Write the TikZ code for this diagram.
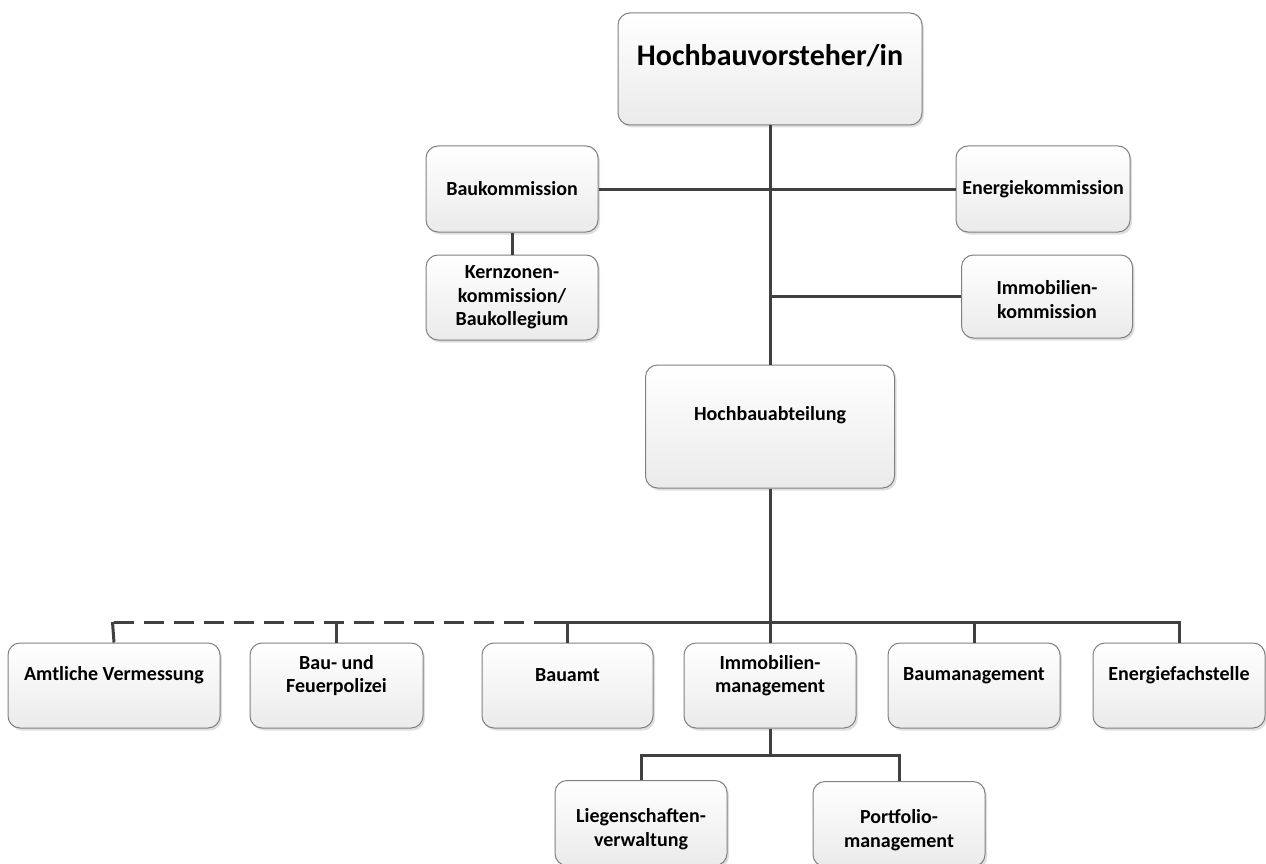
\documentclass[tikz,border=0pt]{standalone}
\usepackage{fontspec}
\setmainfont{Carlito}
\usetikzlibrary{shadows}

\tikzset{
  orgbox/.style={draw=black!50, line width=1pt, rounded corners=12pt, inner sep=0pt,
    top color=white, bottom color=black!8,
    drop shadow={opacity=0.25, shadow xshift=2pt, shadow yshift=-2.5pt}},
  orgtxt/.style={font=\bfseries\fontsize{20}{23.5}\selectfont, align=center, inner sep=0pt},
  bigtxt/.style={font=\bfseries\fontsize{30}{34}\selectfont, inner sep=0pt},
  link/.style={draw=black!75, line width=3pt},
  dashlink/.style={link, dash pattern=on 20pt off 10pt},
}

\begin{document}
\begin{tikzpicture}[x=1pt,y=-1pt]  % ------ Organigramm Hochbau ------
  \useasboundingbox (0,0) rectangle (1266,864);

  % --- obere Ebene
  \node[orgbox, minimum width=304pt, minimum height=112pt] (hbv) at (770,69)
    {};
  \node[bigtxt] (hbv-t) at ([yshift=13pt]hbv.center) {Hochbauvorsteher/in};

  \node[orgbox, minimum width=172pt, minimum height=86pt] (bauk) at (512,189) {};
  \node[orgtxt] (bauk-t) at (bauk.center) {Baukommission};
  \node[orgbox, minimum width=172pt, minimum height=85pt] (kzk) at (512,297.5) {};
  \node[orgtxt] (kzk-t) at (kzk.center) {Kernzonen-\\kommission/\\Baukollegium};
  \node[orgbox, minimum width=174pt, minimum height=86pt] (enk) at (1043,189) {};
  \node[orgtxt] (enk-t) at (enk.center) {Energiekommission};
  \node[orgbox, minimum width=171pt, minimum height=83pt] (imk) at (1047,296.5) {};
  \node[orgtxt] (imk-t) at ([yshift=-3pt]imk.center) {Immobilien-\\kommission};

  \node[orgbox, minimum width=249pt, minimum height=123pt] (hba) at (770,426.5) {};
  \node[orgtxt] (hba-t) at ([yshift=11pt]hba.center) {Hochbauabteilung};

  % --- Abteilungen
  \node[orgbox, minimum width=212pt, minimum height=85pt] (amt) at (114,685.5) {};
  \node[orgtxt] (amt-t) at ([yshift=10pt]amt.center) {Amtliche Vermessung};
  \node[orgbox, minimum width=173pt, minimum height=85pt] (bfp) at (336.5,685.5) {};
  \node[orgtxt] (bfp-t) at ([yshift=10pt]bfp.center) {Bau- und\\Feuerpolizei};
  \node[orgbox, minimum width=171pt, minimum height=85pt] (bamt) at (567.5,685.5) {};
  \node[orgtxt] (bamt-t) at ([yshift=10pt]bamt.center) {Bauamt};
  \node[orgbox, minimum width=172pt, minimum height=85pt] (imm) at (770,685.5) {};
  \node[orgtxt] (imm-t) at ([yshift=10pt]imm.center) {Immobilien-\\management};
  \node[orgbox, minimum width=172pt, minimum height=85pt] (bmg) at (974,685.5) {};
  \node[orgtxt] (bmg-t) at ([yshift=10pt]bmg.center) {Baumanagement};
  \node[orgbox, minimum width=172pt, minimum height=85pt] (efs) at (1179,685.5) {};
  \node[orgtxt] (efs-t) at ([yshift=10pt]efs.center) {Energiefachstelle};

  \node[orgbox, minimum width=172pt, minimum height=85pt] (lgs) at (641,823) {};
  \node[orgtxt] (lgs-t) at ([yshift=-6pt]lgs.center) {Liegenschaften-\\verwaltung};
  \node[orgbox, minimum width=172pt, minimum height=85pt] (pfm) at (899,824) {};
  \node[orgtxt] (pfm-t) at ([yshift=-6pt]pfm.center) {Portfolio-\\management};

  \coordinate (busD) at (547,622);
  \coordinate (sub) at (770,755);

  % --- Verbindungen
  \draw[link] (hbv.south) -- (hba.north);
  \draw[link] (bauk.east) -- (enk.west);
  \draw[link] (bauk.south) -- (kzk.north);
  \draw[link] (imk.west) -- (imk.west -| hbv.south);
  \draw[link] (hba.south) -- (hba.south |- busD);

  \draw[link] (amt.north) -- ([xshift=-1.5pt]amt.north |- busD);
  \draw[dashlink] (amt.north |- busD) -- (busD);
  \draw[link] (bfp.north) -- (bfp.north |- busD);
  \draw[link] (busD) -| (efs.north);
  \foreach \n in {bamt,imm,bmg}
    \draw[link] (\n.north) -- (\n.north |- busD);

  \draw[link] (imm.south) -- (sub);
  \draw[link] (lgs.north) |- (pfm.north |- sub) -- (pfm.north);

\end{tikzpicture}
\end{document}
